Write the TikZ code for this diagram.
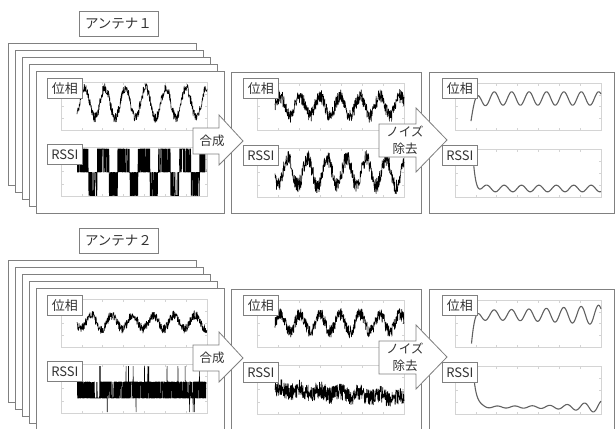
\documentclass[tikz,border=0pt]{standalone}
\usepackage{fontspec}
\setmainfont{Noto Sans CJK JP}
\newcommand\plotbox[4]{%
  \draw[parea] (#1,#2) rectangle (#3,#4);
  \foreach \k in {1,...,6} {
    \draw[ptick] ({#1+(#3-#1)*\k/7},#4) -- ++(0,-2.5);
    \draw[ptick] ({#1+(#3-#1)*\k/7},#2) -- ++(0,2.5);}
  \foreach \k in {1,...,3} {
    \draw[ptick] (#1,{#2+(#4-#2)*\k/4}) -- ++(2.5,0);
    \draw[ptick] (#3,{#2+(#4-#2)*\k/4}) -- ++(-2.5,0);}
}
\begin{document}
\begin{tikzpicture}[x=1pt,y=-1pt,
  frame/.style={draw=black!50, line width=0.8pt, fill=white},
  parea/.style={draw=black!17, line width=0.6pt},
  ptick/.style={draw=black!17, line width=0.5pt},
  lbl/.style={draw=black!50, line width=0.8pt, fill=white, font=\fontsize{13}{13}\selectfont, text=black!80, inner xsep=3.5pt, inner ysep=0pt, minimum height=20pt, minimum width=35pt, anchor=north west},
  ttl/.style={draw=black!50, line width=0.8pt, fill=white, font=\fontsize{13.5}{13.5}\selectfont, text=black!80, minimum width=79pt, minimum height=25pt, inner sep=0pt},
  sig/.style={black, line width=0.6pt, line join=round},
  bsig/.style={black, line width=0.55pt, line join=miter},
  ssig/.style={black!62, line width=1.1pt, line join=round},
  barrow/.style={draw=black!50, line width=0.8pt, fill=white, line join=miter},
  atext/.style={font=\fontsize{12.5}{17}\selectfont, text=black!80, align=center, inner sep=0pt}
]
\path[use as bounding box] (0,0) rectangle (615,428);
\clip (0,0) rectangle (615,428);
\fill[white] (0,0) rectangle (615,428);

% ================= section 1 =================
\foreach \i in {0,...,4} \draw[frame] (8+7*\i, 43+7*\i) rectangle ++(188,142);
\draw[frame] (231,72) rectangle (421,213);
\draw[frame] (429,72) rectangle (614,213);
\plotbox{61}{82}{207}{130}
\plotbox{61}{147}{207}{196}
\plotbox{257}{83}{404}{130}
\plotbox{257}{148}{404}{197}
\plotbox{455}{83}{601}{130}
\plotbox{455}{149}{601}{197}

\pgfmathsetseed{11}
\draw[sig] plot[domain=77:207, samples=450, variable=\x] (\x, {103 - 15*cos((\x-105)/20.3*360) + 5*rand});
\draw[bsig] plot[domain=77:206, samples=700, variable=\x] (\x, {ifthenelse(cos((\x-103)/20.5*360) > -0.25, 160.5, 184) + ifthenelse(rand > 0, -11.5, 11.5)});
\draw[sig] plot[domain=275:404, samples=450, variable=\x] (\x, {106 - 10*cos((\x-300)/20*360) + 7*rand});
\draw[sig] plot[domain=275:404, samples=450, variable=\x] (\x, {172 - 14*cos((\x-288)/19.6*360) + 8*rand});
\draw[ssig] plot[domain=471:601, samples=220, variable=\x] (\x, {98.5 - 6.7*cos((\x-494.3)/17.4*360) + 19*exp(-min((\x-471)/4,12))});
\draw[ssig] plot[domain=473:601, samples=220, variable=\x] (\x, {188.5 - 3.3*cos((\x-486.7)/17.4*360) - 31*exp(-min((\x-473)/2.5,12))});

\draw[barrow] (193,128) -- (219,128) -- (219,115) -- (243,141) -- (219,165) -- (219,154) -- (193,154) -- cycle;
\node[atext] (gs1) at (212,141) {合成};
\draw[barrow] (379,124) -- (416,124) -- (416,108) -- (447,140) -- (416,172) -- (416,157) -- (379,157) -- cycle;
\node[atext] (nr1) at (405,140) {ノイズ\\除去};

\node[ttl] (ant1) at (118.5,23.5) {アンテナ１};
\node[lbl] (pa1) at (47,78) {位相};
\node[lbl] (ra1) at (47,144) {RSSI};
\node[lbl] (pb1) at (243,78) {位相};
\node[lbl] (rb1) at (243,145) {RSSI};
\node[lbl] (pc1) at (442,78) {位相};
\node[lbl] (rc1) at (442,145) {RSSI};

% ================= section 2 =================
\foreach \i in {0,...,4} \draw[frame] (8+7*\i, 260+7*\i) rectangle ++(188,142);
\draw[frame] (231,289) rectangle (421,430);
\draw[frame] (429,289) rectangle (614,430);
\plotbox{61}{299}{207}{347}
\plotbox{61}{364}{207}{413}
\plotbox{257}{300}{404}{347}
\plotbox{257}{365}{404}{414}
\plotbox{455}{300}{601}{347}
\plotbox{455}{366}{601}{414}

\pgfmathsetseed{23}
\draw[sig] plot[domain=77:207, samples=450, variable=\x] (\x, {322 - 7*cos((\x-112)/20.7*360) + 4.5*rand});
\draw[bsig] plot[domain=77:206, samples=700, variable=\x] (\x, {390 + ifthenelse(rnd > 0.975, ifthenelse(rnd > 0.4, -24, 22), ifthenelse(rand > 0, -8, 8))});
\draw[sig] plot[domain=275:404, samples=450, variable=\x] (\x, {323 - 9*cos((\x-300)/20*360) + 6.5*rand});
\draw[sig] plot[domain=275:404, samples=500, variable=\x] (\x, {389 + 0.07*(\x-275) - 2.5*cos((\x-280)/20*360) + 8.5*rand});
\draw[ssig] plot[domain=471.5:601, samples=220, variable=\x] (\x, {315 - 5*(1+((\x-471)/130)^2)*cos((\x-476.7)/17.4*360) + 27*exp(-min((\x-471.5)/3,12))});
\draw[ssig] plot[domain=473:601, samples=220, variable=\x] (\x, {407 - (1+5*((\x-471)/130)^4)*cos((\x-480)/17.4*360) - 40*exp(-min((\x-473)/3,12))});

\draw[barrow] (193,345) -- (219,345) -- (219,332) -- (243,358) -- (219,382) -- (219,371) -- (193,371) -- cycle;
\node[atext] (gs2) at (212,358) {合成};
\draw[barrow] (379,341) -- (416,341) -- (416,325) -- (447,357) -- (416,389) -- (416,374) -- (379,374) -- cycle;
\node[atext] (nr2) at (405,357) {ノイズ\\除去};

\node[ttl] (ant2) at (118.5,240.5) {アンテナ２};
\node[lbl] (pa2) at (47,295) {位相};
\node[lbl] (ra2) at (47,361) {RSSI};
\node[lbl] (pb2) at (243,295) {位相};
\node[lbl] (rb2) at (243,362) {RSSI};
\node[lbl] (pc2) at (442,295) {位相};
\node[lbl] (rc2) at (442,362) {RSSI};
\end{tikzpicture}
\end{document}
